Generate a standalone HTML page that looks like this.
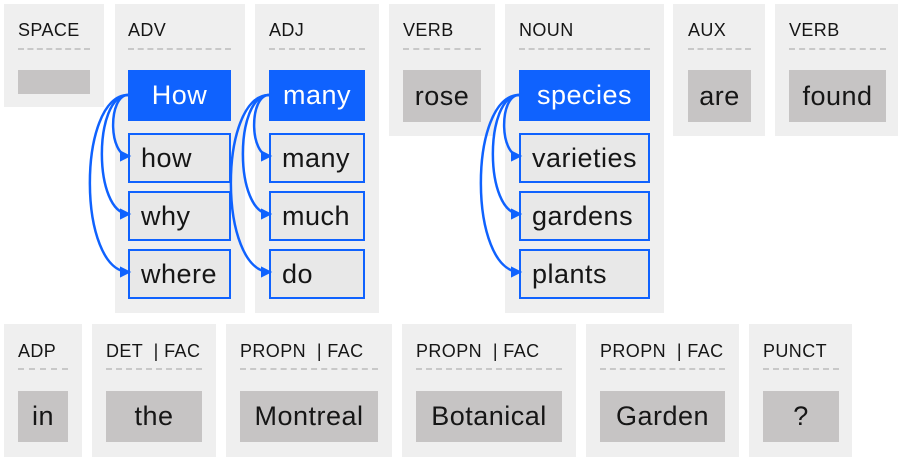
<!DOCTYPE html>
<html><head><meta charset="utf-8"><style>
body{margin:0;width:912px;height:463px;background:#fff;position:relative;overflow:hidden;font-family:"Liberation Sans",sans-serif}
.p{position:absolute;background:#efefef}
.h{position:absolute;font-size:18px;color:#161616;letter-spacing:0.4px;white-space:nowrap}
.d{position:absolute;height:0;border-top:2px dashed #c8c8c8}
.b{position:absolute;box-sizing:border-box;font-size:27px;letter-spacing:0.5px;color:#161616;display:flex;align-items:center;white-space:nowrap}
.g{background:#c6c4c4;justify-content:center}
.bl{background:#0f62fe;color:#fff;justify-content:center}
.o{background:#e8e8e8;border:2px solid #0f62fe;padding-left:11px}
svg{position:absolute;left:0;top:0}
</style></head><body>
<!-- top row -->
<div class="p" style="left:4px;top:4px;width:100px;height:103px"></div>
<div class="h" style="left:18px;top:20px">SPACE</div><div class="d" style="left:18px;top:48px;width:72px"></div>
<div class="b g" style="left:18px;top:70px;width:72px;height:24px"></div>

<div class="p" style="left:115px;top:4px;width:130px;height:309px"></div>
<div class="h" style="left:128px;top:20px">ADV</div><div class="d" style="left:128px;top:48px;width:103px"></div>
<div class="b bl" style="left:128px;top:70px;width:103px;height:51px">How</div>
<div class="b o" style="left:128px;top:133px;width:103px;height:50px">how</div>
<div class="b o" style="left:128px;top:191px;width:103px;height:50px">why</div>
<div class="b o" style="left:128px;top:249px;width:103px;height:50px">where</div>

<div class="p" style="left:255px;top:4px;width:124px;height:309px"></div>
<div class="h" style="left:269px;top:20px">ADJ</div><div class="d" style="left:269px;top:48px;width:96px"></div>
<div class="b bl" style="left:269px;top:70px;width:96px;height:51px">many</div>
<div class="b o" style="left:269px;top:133px;width:96px;height:50px">many</div>
<div class="b o" style="left:269px;top:191px;width:96px;height:50px">much</div>
<div class="b o" style="left:269px;top:249px;width:96px;height:50px">do</div>

<div class="p" style="left:389px;top:4px;width:106px;height:132px"></div>
<div class="h" style="left:403px;top:20px">VERB</div><div class="d" style="left:403px;top:48px;width:78px"></div>
<div class="b g" style="left:403px;top:70px;width:78px;height:52px">rose</div>

<div class="p" style="left:505px;top:4px;width:159px;height:309px"></div>
<div class="h" style="left:519px;top:20px">NOUN</div><div class="d" style="left:519px;top:48px;width:131px"></div>
<div class="b bl" style="left:519px;top:70px;width:131px;height:51px">species</div>
<div class="b o" style="left:519px;top:133px;width:131px;height:50px">varieties</div>
<div class="b o" style="left:519px;top:191px;width:131px;height:50px">gardens</div>
<div class="b o" style="left:519px;top:249px;width:131px;height:50px">plants</div>

<div class="p" style="left:673px;top:4px;width:92px;height:132px"></div>
<div class="h" style="left:688px;top:20px">AUX</div><div class="d" style="left:688px;top:48px;width:63px"></div>
<div class="b g" style="left:688px;top:70px;width:63px;height:52px">are</div>

<div class="p" style="left:775px;top:4px;width:123px;height:132px"></div>
<div class="h" style="left:789px;top:20px">VERB</div><div class="d" style="left:789px;top:48px;width:97px"></div>
<div class="b g" style="left:789px;top:70px;width:97px;height:52px">found</div>

<!-- bottom row -->
<div class="p" style="left:4px;top:324px;width:78px;height:133px"></div>
<div class="h" style="left:18px;top:341px">ADP</div><div class="d" style="left:18px;top:368px;width:50px"></div>
<div class="b g" style="left:18px;top:391px;width:50px;height:51px">in</div>

<div class="p" style="left:92px;top:324px;width:124px;height:133px"></div>
<div class="h" style="left:106px;top:341px">DET &nbsp;| FAC</div><div class="d" style="left:106px;top:368px;width:96px"></div>
<div class="b g" style="left:106px;top:391px;width:96px;height:51px">the</div>

<div class="p" style="left:226px;top:324px;width:166px;height:133px"></div>
<div class="h" style="left:240px;top:341px">PROPN &nbsp;| FAC</div><div class="d" style="left:240px;top:368px;width:138px"></div>
<div class="b g" style="left:240px;top:391px;width:138px;height:51px">Montreal</div>

<div class="p" style="left:402px;top:324px;width:174px;height:133px"></div>
<div class="h" style="left:416px;top:341px">PROPN &nbsp;| FAC</div><div class="d" style="left:416px;top:368px;width:146px"></div>
<div class="b g" style="left:416px;top:391px;width:146px;height:51px">Botanical</div>

<div class="p" style="left:586px;top:324px;width:153px;height:133px"></div>
<div class="h" style="left:600px;top:341px">PROPN &nbsp;| FAC</div><div class="d" style="left:600px;top:368px;width:125px"></div>
<div class="b g" style="left:600px;top:391px;width:125px;height:51px">Garden</div>

<div class="p" style="left:749px;top:324px;width:103px;height:133px"></div>
<div class="h" style="left:763px;top:341px">PUNCT</div><div class="d" style="left:763px;top:368px;width:76px"></div>
<div class="b g" style="left:763px;top:391px;width:76px;height:51px">?</div>

<svg width="912" height="463" viewBox="0 0 912 463">
<defs><marker id="a" viewBox="0 0 10 10" refX="8" refY="5" markerWidth="4.5" markerHeight="4.5" orient="auto"><path d="M0,0L10,5L0,10z" fill="#0f62fe"/></marker></defs>
<g fill="none" stroke="#0f62fe" stroke-width="2.5" marker-end="url(#a)">
<g id="arr">
<path d="M128,95 C108,95 108,156 129,156"/>
<path d="M128,95 C93,95 93,214 129,214"/>
<path d="M128,95 C77,95 77,272 129,272"/>
</g>
<use href="#arr" transform="translate(141,0)"/>
<use href="#arr" transform="translate(391,0)"/>
</g>
</svg>
</body></html>
